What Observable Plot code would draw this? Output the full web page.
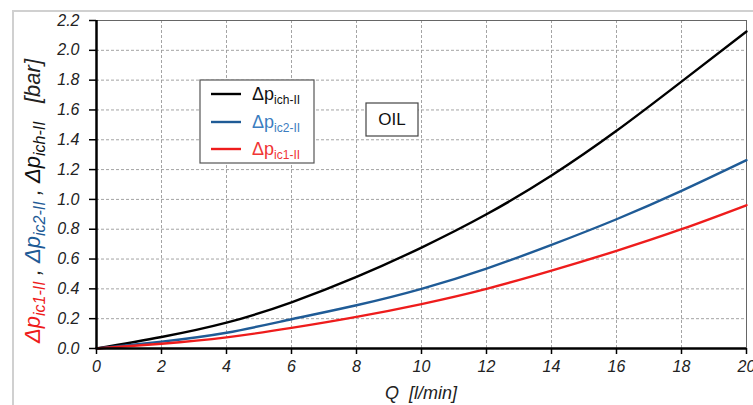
<!DOCTYPE html>
<html>
<head>
<meta charset="utf-8">
<script src="https://cdn.jsdelivr.net/npm/d3@7"></script>
<script src="https://cdn.jsdelivr.net/npm/@observablehq/plot@0.6"></script>
<style>
  html, body { margin: 0; padding: 0; background: #fff; }
  #wrap { position: relative; width: 753px; height: 405px; overflow: hidden; }
  #border { position: absolute; left: 12px; top: 10px; width: 800px; height: 500px; border: 2px solid #d0d0d0; box-sizing: border-box; }
  #chart { position: absolute; left: 0; top: 0; }
</style>
</head>
<body>
<div id="wrap"><div id="border"></div><div id="chart"></div></div>
<script>
const Q = [0, 2, 4, 6, 8, 10, 12, 14, 16, 18, 20];
const dpIch = [0, 0.077, 0.173, 0.31, 0.48, 0.677, 0.90, 1.16, 1.46, 1.79, 2.126];
const dpIc2 = [0, 0.046, 0.106, 0.196, 0.29, 0.40, 0.536, 0.695, 0.867, 1.057, 1.263];
const dpIc1 = [0, 0.032, 0.075, 0.138, 0.212, 0.298, 0.400, 0.522, 0.655, 0.800, 0.961];
const xTicks = [0, 2, 4, 6, 8, 10, 12, 14, 16, 18, 20];
const yTicks = [0, 0.2, 0.4, 0.6, 0.8, 1.0, 1.2, 1.4, 1.6, 1.8, 2.0, 2.2];
const seriesNames = ["ich-II", "ic2-II", "ic1-II"];
const seriesColors = ["#000000", "#1f5b96", "#ee1c1c"];
const legendTextColors = ["#111111", "#3b7dc0", "#f03535"];

const data = [];
[dpIch, dpIc2, dpIc1].forEach((vals, k) => {
  Q.forEach((q, i) => data.push({ q, v: vals[i], s: seriesNames[k] }));
});

const font = "'Liberation Sans', Arial, sans-serif";

const plot = Plot.plot({
  width: 753,
  height: 405,
  marginLeft: 96,
  marginRight: 7,
  marginTop: 20,
  marginBottom: 57,
  style: { fontFamily: font, fontSize: "15px", color: "#222", background: "transparent" },
  x: { domain: [0, 20] },
  y: { domain: [0, 2.2] },
  color: { domain: seriesNames, range: seriesColors },
  marks: [
    Plot.ruleX(xTicks, { stroke: "#9a9a9a", strokeDasharray: "3,2", strokeWidth: 0.9 }),
    Plot.ruleY(yTicks, { stroke: "#9a9a9a", strokeDasharray: "3,2", strokeWidth: 0.9 }),
    Plot.frame({ stroke: "#666", strokeWidth: 1 }),
    Plot.line(data, { x: "q", y: "v", z: "s", stroke: "s", strokeWidth: 2.4, curve: "natural" }),
    Plot.ruleX([0], { stroke: "#000", strokeWidth: 2.5 }),
    Plot.ruleY([0], { stroke: "#000", strokeWidth: 2.5 }),
    Plot.axisX(xTicks, { tickSize: 6, tickPadding: 6, tickFormat: d => String(d), label: null, fontStyle: "italic", fontSize: 16, stroke: "#000", strokeWidth: 1.5 }),
    Plot.axisY(yTicks, { tickSize: 7, tickPadding: 10, tickFormat: d => d.toFixed(1), label: null, fontStyle: "italic", fontSize: 16, stroke: "#000", strokeWidth: 1.5 })
  ]
});

document.getElementById("chart").appendChild(plot);
const svg = d3.select(plot);

// X axis title
svg.append("text")
  .attr("x", 421).attr("y", 399)
  .attr("text-anchor", "middle")
  .style("font-family", font).style("font-style", "italic").style("font-size", "18px").attr("fill", "#222")
  .attr("xml:space", "preserve")
  .text("Q  [l/min]");

// Y axis title (multi-coloured, rotated)
const yt = svg.append("text")
  .attr("transform", "translate(40,201) rotate(-90)")
  .attr("text-anchor", "middle")
  .attr("xml:space", "preserve")
  .style("font-family", font).style("font-style", "italic").style("font-size", "22px");
const parts = [
  { t: "\u0394p", c: seriesColors[2] }, { t: "ic1-II", c: seriesColors[2], sub: true }, { t: " , ", c: "#222" },
  { t: "\u0394p", c: seriesColors[1] }, { t: "ic2-II", c: seriesColors[1], sub: true }, { t: " , ", c: "#222" },
  { t: "\u0394p", c: "#111" }, { t: "ich-II", c: "#111", sub: true }, { t: "   [bar]", c: "#222" }
];
parts.forEach((p, i) => {
  const prevSub = i > 0 && parts[i - 1].sub;
  const ts = yt.append("tspan").attr("fill", p.c).text(p.t)
    .attr("dy", p.sub ? 5 : (prevSub ? -5 : 0));
  if (p.sub) ts.style("font-size", "16px");
});

// Legend box
const lg = svg.append("g");
lg.append("rect").attr("x", 200).attr("y", 80).attr("width", 114).attr("height", 83)
  .attr("fill", "#fff").attr("stroke", "#555").attr("stroke-width", 1.2);
const legendY = [94, 122, 149];
seriesNames.forEach((n, i) => {
  lg.append("line").attr("x1", 211).attr("x2", 241).attr("y1", legendY[i]).attr("y2", legendY[i])
    .attr("stroke", seriesColors[i]).attr("stroke-width", 2.4);
  const t = lg.append("text").attr("x", 252).attr("y", legendY[i] + 6)
    .attr("text-anchor", "start")
    .style("font-family", font).style("font-size", "18px").attr("fill", legendTextColors[i]);
  t.append("tspan").text("\u0394p");
  t.append("tspan").attr("dy", 4).style("font-size", "12px").text(n);
});

// OIL box
svg.append("rect").attr("x", 366).attr("y", 103).attr("width", 52).attr("height", 33)
  .attr("fill", "#fff").attr("stroke", "#444").attr("stroke-width", 1.2);
svg.append("text").attr("x", 392).attr("y", 125).attr("text-anchor", "middle")
  .style("font-family", font).style("font-size", "17px").attr("fill", "#111").text("OIL");
</script>
</body>
</html>
